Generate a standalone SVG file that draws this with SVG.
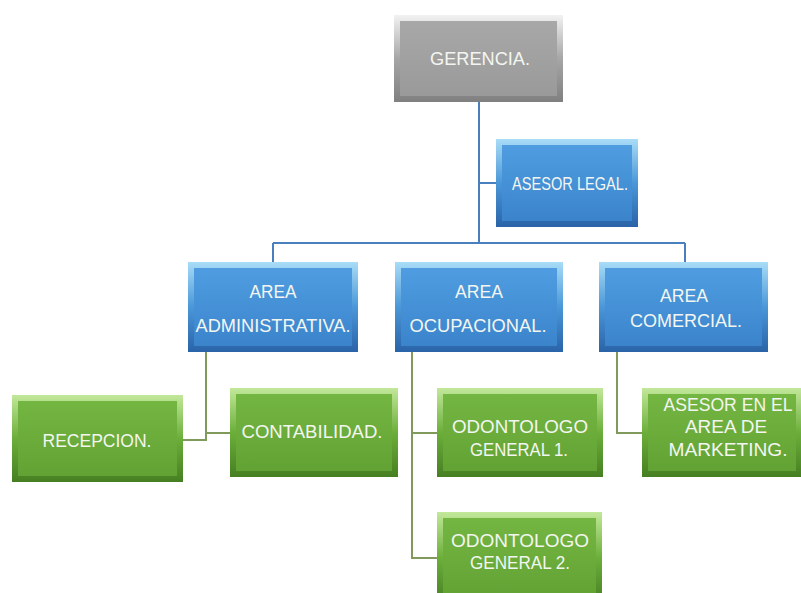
<svg xmlns="http://www.w3.org/2000/svg" width="801" height="593" viewBox="0 0 801 593">
<defs>
<linearGradient id="edgeBlue" x1="0" y1="0" x2="0" y2="1"><stop offset="0" stop-color="#a9dcf7"/><stop offset="0.5" stop-color="#4a97d8"/><stop offset="1" stop-color="#2a63a8"/></linearGradient>
<linearGradient id="faceBlue" x1="0" y1="0" x2="0" y2="1"><stop offset="0" stop-color="#4f9de0"/><stop offset="1" stop-color="#3b84cc"/></linearGradient>
<linearGradient id="edgeGreen" x1="0" y1="0" x2="0" y2="1"><stop offset="0" stop-color="#c2e89a"/><stop offset="0.5" stop-color="#6cae3a"/><stop offset="1" stop-color="#467f22"/></linearGradient>
<linearGradient id="faceGreen" x1="0" y1="0" x2="0" y2="1"><stop offset="0" stop-color="#74b642"/><stop offset="1" stop-color="#62a234"/></linearGradient>
<linearGradient id="edgeGray" x1="0" y1="0" x2="0" y2="1"><stop offset="0" stop-color="#f2f2f2"/><stop offset="0.5" stop-color="#a6a6a6"/><stop offset="1" stop-color="#808080"/></linearGradient>
<linearGradient id="faceGray" x1="0" y1="0" x2="0" y2="1"><stop offset="0" stop-color="#a8a8a8"/><stop offset="1" stop-color="#9a9a9a"/></linearGradient>
</defs>
<style>
.t{font-family:"Liberation Sans",Arial,sans-serif;font-size:18px;fill:#f3f6f0;text-anchor:middle}
.eb{fill:url(#edgeBlue)} .fb{fill:url(#faceBlue)}
.eg{fill:url(#edgeGreen)} .fg{fill:url(#faceGreen)}
.ey{fill:url(#edgeGray)} .fy{fill:url(#faceGray)}
.cb{stroke:#4a7fbf;stroke-width:2;fill:none}
.cg{stroke:#7f9a5a;stroke-width:2;fill:none}
</style>
<rect width="801" height="593" fill="#ffffff"/>
<g id="connectors">
<path class="cb" d="M479 102 V243" stroke-width="3"/>
<path class="cb" d="M479 183 H496"/>
<path class="cb" d="M273 243 H685 M273 243 V262 M685 243 V262"/>
<path class="cg" d="M206 352 V440 H183 M206 433 H230"/>
<path class="cg" d="M412 352 V558 H437 M412 433 H437"/>
<path class="cg" d="M617 352 V433 H642"/>
</g>
<g id="gerencia">
<rect class="ey" x="394" y="15" width="169" height="87"/>
<rect class="fy" x="400" y="21" width="157" height="75"/>
<text class="t" x="480" y="65" textLength="100" lengthAdjust="spacingAndGlyphs">GERENCIA.</text>
</g>
<g id="asesor-legal">
<rect class="eb" x="496" y="139" width="142" height="88"/>
<rect class="fb" x="502" y="145" width="130" height="76"/>
<text class="t" x="570" y="190" textLength="116" lengthAdjust="spacingAndGlyphs">ASESOR LEGAL.</text>
</g>
<g id="area-administrativa">
<rect class="eb" x="188" y="262" width="170" height="90"/>
<rect class="fb" x="194" y="268" width="158" height="78"/>
<text class="t" x="273" y="298" textLength="47" lengthAdjust="spacingAndGlyphs">AREA</text>
<text class="t" x="273" y="332" textLength="155" lengthAdjust="spacingAndGlyphs">ADMINISTRATIVA.</text>
</g>
<g id="area-ocupacional">
<rect class="eb" x="395" y="262" width="168" height="90"/>
<rect class="fb" x="401" y="268" width="156" height="78"/>
<text class="t" x="479" y="298" textLength="48" lengthAdjust="spacingAndGlyphs">AREA</text>
<text class="t" x="478" y="332" textLength="137" lengthAdjust="spacingAndGlyphs">OCUPACIONAL.</text>
</g>
<g id="area-comercial">
<rect class="eb" x="599" y="262" width="169" height="90"/>
<rect class="fb" x="605" y="268" width="157" height="78"/>
<text class="t" x="684" y="302" textLength="48" lengthAdjust="spacingAndGlyphs">AREA</text>
<text class="t" x="686" y="327" textLength="112" lengthAdjust="spacingAndGlyphs">COMERCIAL.</text>
</g>
<g id="recepcion">
<rect class="eg" x="12" y="395" width="171" height="87"/>
<rect class="fg" x="18" y="401" width="159" height="75"/>
<text class="t" x="97" y="447" textLength="109" lengthAdjust="spacingAndGlyphs">RECEPCION.</text>
</g>
<g id="contabilidad">
<rect class="eg" x="230" y="388" width="168" height="89"/>
<rect class="fg" x="236" y="394" width="156" height="77"/>
<text class="t" x="312" y="438" textLength="141" lengthAdjust="spacingAndGlyphs">CONTABILIDAD.</text>
</g>
<g id="odontologo-1">
<rect class="eg" x="437" y="388" width="166" height="89"/>
<rect class="fg" x="443" y="394" width="154" height="77"/>
<text class="t" x="520" y="433" textLength="136" lengthAdjust="spacingAndGlyphs">ODONTOLOGO</text>
<text class="t" x="519" y="456" textLength="98" lengthAdjust="spacingAndGlyphs">GENERAL 1.</text>
</g>
<g id="asesor-marketing">
<rect class="eg" x="642" y="388" width="160" height="89"/>
<rect class="fg" x="648" y="394" width="148" height="77"/>
<text class="t" x="728" y="411" textLength="129" lengthAdjust="spacingAndGlyphs">ASESOR EN EL</text>
<text class="t" x="726" y="433" textLength="82" lengthAdjust="spacingAndGlyphs">AREA DE</text>
<text class="t" x="728" y="456" textLength="119" lengthAdjust="spacingAndGlyphs">MARKETING.</text>
</g>
<g id="odontologo-2">
<rect class="eg" x="437" y="512" width="165" height="92"/>
<rect class="fg" x="443" y="518" width="153" height="80"/>
<text class="t" x="520" y="547" textLength="138" lengthAdjust="spacingAndGlyphs">ODONTOLOGO</text>
<text class="t" x="520" y="569" textLength="100" lengthAdjust="spacingAndGlyphs">GENERAL 2.</text>
</g>
</svg>
